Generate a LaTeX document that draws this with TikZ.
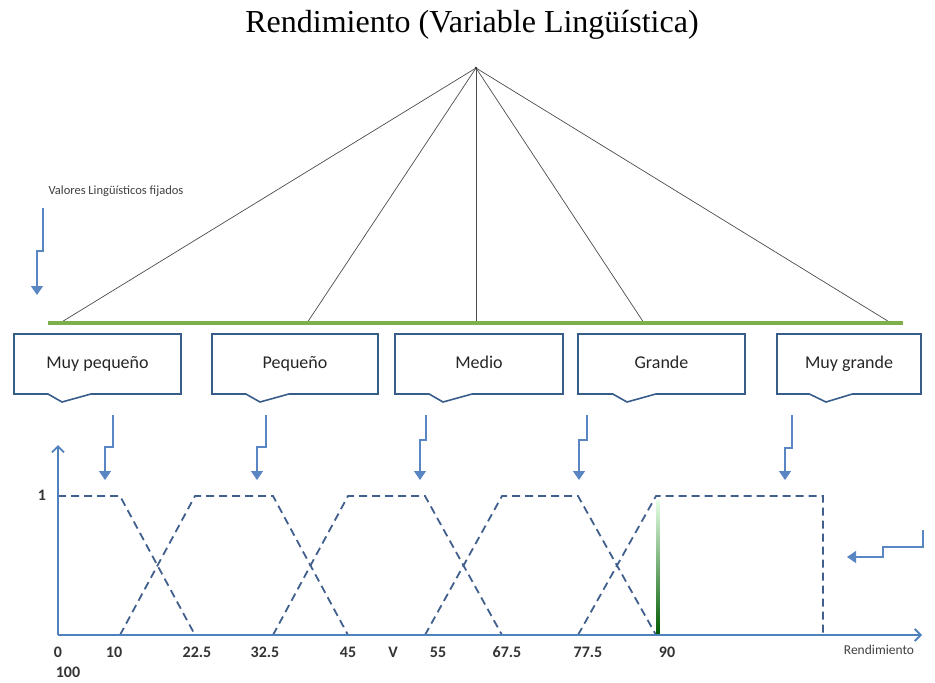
\documentclass[tikz,border=0pt]{standalone}
\usepackage{fontspec}
\setmainfont{Liberation Serif}
\newfontfamily\calibri{Carlito}
\usetikzlibrary{arrows.meta,shapes.callouts}
\definecolor{boxblue}{RGB}{56,93,138}
\definecolor{axisblue}{RGB}{79,129,189}
\definecolor{arrowblue}{RGB}{90,135,195}
\definecolor{setblue}{RGB}{65,95,140}
\definecolor{bargreen}{RGB}{125,175,75}
\begin{document}
\begin{tikzpicture}[x=1pt,y=-1pt,
  callbox/.style={draw=boxblue,line width=1.6pt,rectangle callout,callout pointer width=43pt,
    minimum height=60pt,text height=12pt,text depth=4pt,
    font=\calibri\fontsize{18}{18}\selectfont,text=black!85},
  fan/.style={draw=black!70,line width=0.7pt},
  elbow/.style={draw=arrowblue,line width=1.2pt,-{Triangle[width=12pt,length=9pt]}},
  axis/.style={draw=axisblue,line width=1.8pt,-{Straight Barb[length=6pt,width=12pt]}},
  fuzzy/.style={draw=setblue,line width=1.8pt,dash pattern=on 8pt off 5pt},
  tick/.style={font=\calibri\bfseries\fontsize{16}{16}\selectfont,text=black!80,
    text height=11pt,text depth=2pt}]
  \useasboundingbox (0,0) rectangle (935,683);
  \node (title) at (472,25) {\fontsize{32}{32}\selectfont Rendimiento (Variable Lingüística)};
  % fan of linguistic values
  \coordinate (top) at (476,68);
  \coordinate (barL) at (48,323);
  \coordinate (barR) at (903,323);
  \coordinate (b1) at (60,323);
  \coordinate (b2) at (307,323);
  \coordinate (b3) at (476,323);
  \coordinate (b4) at (644,323);
  \coordinate (b5) at (891,323);
  \draw [fan] (top) -- (b1);
  \draw [fan] (top) -- (b2);
  \draw [fan] (top) -- (b3);
  \draw [fan] (top) -- (b4);
  \draw [fan] (top) -- (b5);
  \fill [black!80] (top) circle (1.3);
  \draw [bargreen,line width=4pt] (barL) -- (barR);
  \node (note) at (45,191) [anchor=west,font=\calibri\fontsize{12.5}{12.5}\selectfont,black!75] {Valores Lingüísticos fijados};
  \draw [elbow] (43,208) -- (43,251) -- (37,251) -- (37,295);
  % linguistic labels
  \node (MP) at (97.5,364) [callbox,minimum width=167pt,callout absolute pointer={(62,402)}] {Muy pequeño};
  \node (P) at (295,364) [callbox,minimum width=166pt,callout absolute pointer={(260,402)}] {Pequeño};
  \node (M) at (479,364) [callbox,minimum width=168pt,callout absolute pointer={(443,402)}] {Medio};
  \node (G) at (661.5,364) [callbox,minimum width=167pt,callout absolute pointer={(627,402)}] {Grande};
  \node (MG) at (849,364) [callbox,minimum width=144pt,callout absolute pointer={(826,402)}] {Muy grande};
  \draw [elbow] (113,415) -- (113,447) -- (105,447) -- (105,480);
  \draw [elbow] (266,415) -- (266,447) -- (257,447) -- (257,480);
  \draw [elbow] (426,415) -- (426,440) -- (420,440) -- (420,480);
  \draw [elbow] (587,415) -- (587,440) -- (579,440) -- (579,480);
  \draw [elbow] (792,415) -- (792,448) -- (785,448) -- (785,480);
  \draw [elbow] (923,530) -- (923,547) -- (883,547) -- (883,557) -- (847,557);
  % membership functions
  \coordinate (O) at (58,635);
  \draw [fuzzy] (58,496) -- (120,496) -- (195,635);
  \draw [fuzzy] (120,635) -- (195,496) -- (273,496) -- (348,635);
  \draw [fuzzy] (273,635) -- (348,496) -- (425,496) -- (502,635);
  \draw [fuzzy] (425,635) -- (502,496) -- (578,496) -- (656,635);
  \draw [fuzzy] (578,635) -- (656,496) -- (823,496) -- (823,635);
  \shade [top color=green!10!white,bottom color=green!35!black] (656.5,500) rectangle (659.5,635);
  \draw [axis] (O) -- (58,445);
  \draw [axis] (O) -- (922,635);
  \node (one) at (42,496) [tick] {1};
  \node (t0) at (58,653) [tick] {0};
  \node (t100) at (68,673) [tick] {100};
  \node (t10) at (114,653) [tick] {10};
  \node (t22) at (197,653) [tick] {22.5};
  \node (t32) at (265,653) [tick] {32.5};
  \node (t45) at (348,653) [tick] {45};
  \node (tV) at (393,653) [tick] {V};
  \node (t55) at (438,653) [tick] {55};
  \node (t67) at (507,653) [tick] {67.5};
  \node (t77) at (588,653) [tick] {77.5};
  \node (t90) at (667,653) [tick] {90};
  \node (xlab) at (879,650) [font=\calibri\fontsize{13.5}{13.5}\selectfont,black!75] {Rendimiento};
\end{tikzpicture}
\end{document}
